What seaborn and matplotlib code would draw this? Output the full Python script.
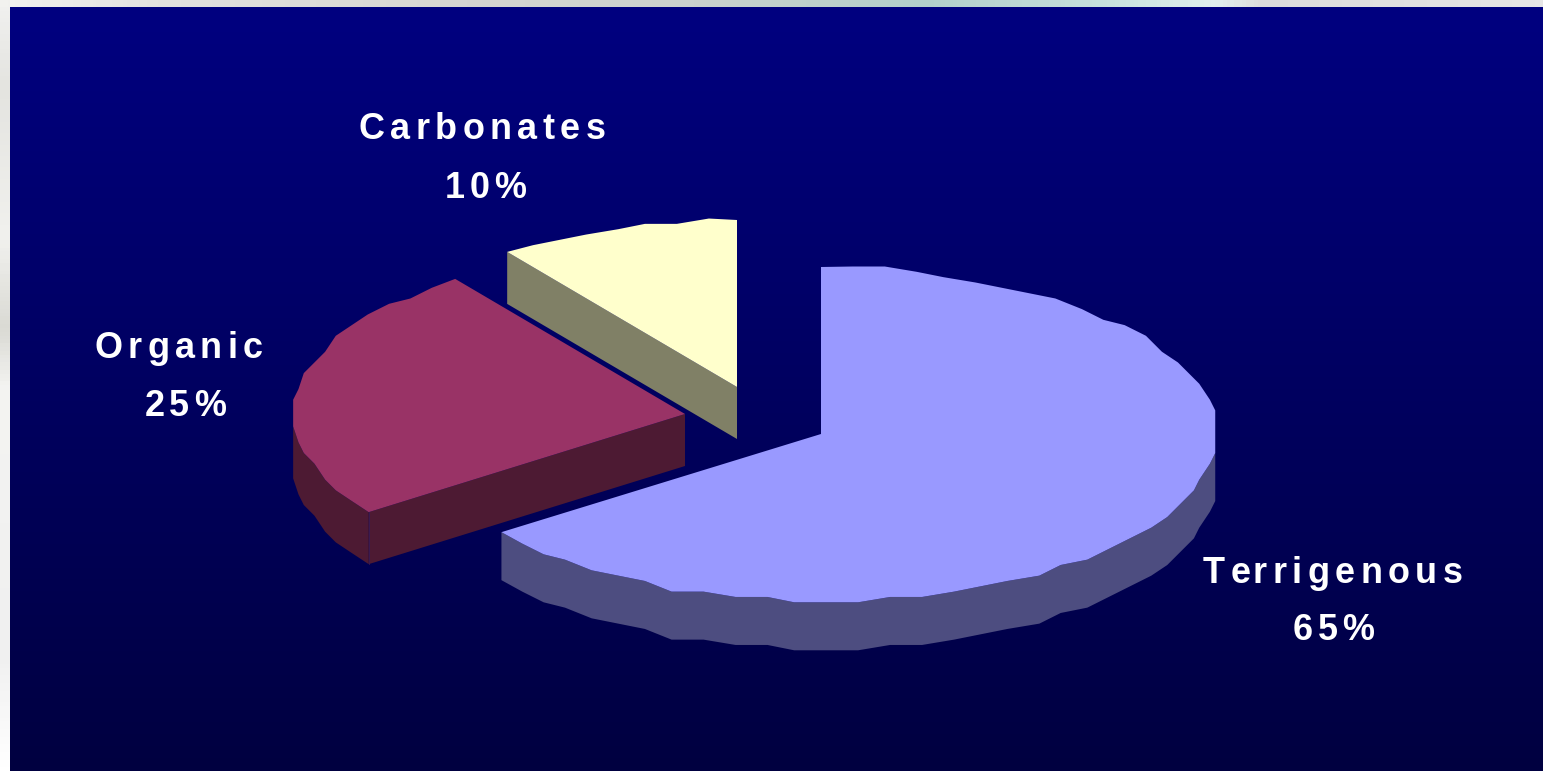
import numpy as np
import matplotlib
matplotlib.use("Agg")
import matplotlib.pyplot as plt
import seaborn as sns
from matplotlib.colors import LinearSegmentedColormap
from matplotlib.text import Text
from matplotlib.transforms import IdentityTransform, Bbox

# ---- data ----
categories = ["Terrigenous", "Organic", "Carbonates"]
shares = [65, 25, 10]
top_colors = ["#9999FF", "#993366", "#FFFFCC"]
side_colors = ["#4D4D80", "#4D1A33", "#808066"]

# ---- layout (reference pixels) ----
W, H = 1543, 771
RXS = [395, 391, 391]
RY = 167
CENTERS = [(821, 434), (685, 414), (737, 387)]
DEPTHS = [48, 52, 52]
LABEL_POS = [((1332.5, 583), (1333.5, 640)), ((178.5, 358), (185, 416)), ((482, 139), (485.5, 198))]
GRID = 5.33
STEP_DEG = 4.6

sns.set_theme(style="white")
palette = sns.color_palette(top_colors)
side_palette = sns.color_palette(side_colors)
plt.rcParams["font.family"] = ["Liberation Sans", "DejaVu Sans"]


class TrackedText(Text):
    """Text drawn with extra letter spacing (PowerPoint style tracking)."""

    def __init__(self, *args, tracking=5.0, **kwargs):
        super().__init__(*args, **kwargs)
        self.tracking = tracking

    def draw(self, renderer):
        s = self.get_text()
        fp = self.get_fontproperties()
        px, py = self.get_transform().transform(self.get_position())
        def w(t):
            return renderer.get_text_width_height_descent(t, fp, False)[0] if t else 0.0
        total = w(s) + self.tracking * (len(s) - 1)
        x0 = px - total / 2
        for i, ch in enumerate(s):
            t = Text(x0 + w(s[:i]) + self.tracking * i, py, ch, transform=IdentityTransform(),
                     fontproperties=fp, color=self.get_color(), ha="left", va="baseline")
            t.set_figure(self.get_figure())
            t.draw(renderer)

    def get_window_extent(self, renderer=None, dpi=None):
        bb = super().get_window_extent(renderer, dpi)
        pad = self.tracking * (len(self.get_text()) - 1) / 2
        return Bbox.from_extents(bb.x0 - pad, bb.y0, bb.x1 + pad, bb.y1)


def rim(cx, cy, rx, a0, a1):
    """Coarse, stair-stepped ellipse arc; angles clockwise from 12 o'clock."""
    n = max(2, int(round((a1 - a0) / STEP_DEG)) + 1)
    deg = np.linspace(a0, a1, n)
    ang = np.radians(deg)
    x = cx + rx * np.sin(ang)
    y = cy - RY * np.cos(ang)
    qx = np.round(x / GRID) * GRID
    qy = np.round(y / GRID) * GRID
    qx[0], qy[0], qx[-1], qy[-1] = x[0], y[0], x[-1], y[-1]
    return deg, qx, qy


fig = plt.figure(figsize=(W / 100, H / 100), dpi=100, facecolor="#EDEDEB")
ax = fig.add_axes([0, 0, 1, 1])
ax.axis("off")

# pale backdrop strips
strip_top = LinearSegmentedColormap.from_list("st", [
    (0.0, "#F2F2EF"), (0.1, "#E2E2E0"), (0.3, "#D6D6D2"), (0.45, "#CBD2CE"),
    (0.6, "#B3D0CB"), (0.72, "#C8E2DE"), (0.79, "#E0F0EE"), (0.82, "#DCDCDC"), (1.0, "#E6E6E6")])
ax.imshow(np.linspace(0, 1, 400)[None, :], cmap=strip_top, extent=(0, W, 7, 0), aspect="auto")
strip_left = LinearSegmentedColormap.from_list("sl", [
    (0.0, "#F0F0EE"), (0.1, "#E4E4E0"), (0.3, "#F1F1EE"), (0.42, "#DADAD4"), (0.5, "#F4F4F2"),
    (0.85, "#F0F0F0"), (1.0, "#FFFFFF")])
ax.imshow(np.linspace(0, 1, 200)[:, None], cmap=strip_left, extent=(0, 10, H, 7), aspect="auto")

# navy gradient panel
panel = LinearSegmentedColormap.from_list("panel", ["#000080", "#000040"])
ax.imshow(np.linspace(0, 1, 256)[:, None], cmap=panel, extent=(10, W, H, 7), aspect="auto")

# wedges
fractions = np.array(shares) / sum(shares)
starts = np.concatenate([[0], np.cumsum(fractions)[:-1]]) * 360
ends = np.cumsum(fractions) * 360

for i in [2, 1, 0]:
    cx, cy = CENTERS[i]
    d = DEPTHS[i]
    deg, fx, fy = rim(cx, cy, RXS[i], starts[i], ends[i])
    # visible outer wall shares the vertices of the top face
    vis = (deg >= 90) & (deg <= 270)
    if vis.sum() > 1:
        sx, sy = fx[vis], fy[vis]
        ax.fill(np.r_[sx, sx[::-1]], np.r_[sy, sy[::-1] + d], color=side_palette[i], lw=0, zorder=3)
    # visible radial wall on the cut facing the viewer
    if i != 0:
        ax.fill([cx, fx[0], fx[0], cx], [cy, fy[0], fy[0] + d, cy + d],
                color=side_palette[i], lw=0, zorder=3)
    ax.fill(np.r_[cx, fx], np.r_[cy, fy], color=palette[i], lw=0, zorder=4)
    if i == 1:
        ax.plot([fx[0], fx[0]], [fy[0], fy[0] + d], color="#3A1A50", lw=0.7, zorder=3.5)

# labels
for name, share, (p1, p2) in zip(categories, shares, LABEL_POS):
    for txt, (x, y), tr in ((name, p1, 5.4), (f"{share}%", p2, 4.6)):
        t = TrackedText(x, y, txt, tracking=tr, color="white", fontsize=25.9, fontweight="bold",
                        ha="center", va="baseline", zorder=6)
        ax.add_artist(t)

ax.set_xlim(0, W)
ax.set_ylim(H, 0)
fig.savefig("out.png", dpi=100, facecolor=fig.get_facecolor())
